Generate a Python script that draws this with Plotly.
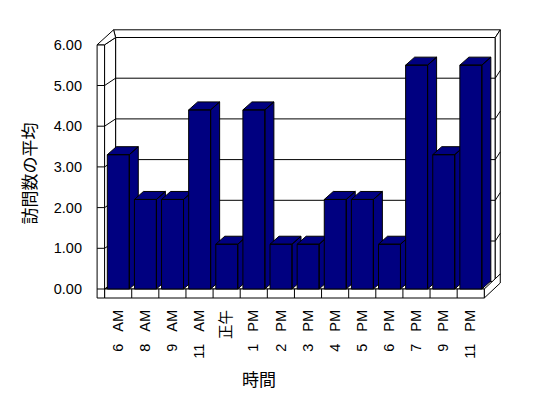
import plotly.graph_objects as go

# ---- data ----
categories = ["6\u00a0\u00a0\u00a0AM", "8\u00a0\u00a0\u00a0AM", "9\u00a0\u00a0\u00a0AM", "11\u00a0\u00a0\u00a0AM", "正午",
              "1\u00a0\u00a0\u00a0PM", "2\u00a0\u00a0\u00a0PM", "3\u00a0\u00a0\u00a0PM", "4\u00a0\u00a0\u00a0PM", "5\u00a0\u00a0\u00a0PM",
              "6\u00a0\u00a0\u00a0PM", "7\u00a0\u00a0\u00a0PM", "9\u00a0\u00a0\u00a0PM", "11\u00a0\u00a0\u00a0PM"]
values = [3.3, 2.2, 2.2, 4.4, 1.1, 4.4, 1.1, 1.1, 2.2, 2.2, 1.1, 5.5, 3.3, 5.5]
y_ticks = [0, 1, 2, 3, 4, 5, 6]
y_ticktext = ["0.00", "1.00", "2.00", "3.00", "4.00", "5.00", "6.00"]
x_title = "時間"
y_title = "訪問数の平均"

# ---- geometry (pseudo-3D, in data units) ----
N = len(categories)
YMAX = 6
CW, PV = 27.12, 40.7          # px per category / per value unit
BAR_L, BAR_R = 0.10, 0.91      # bar front face within category
BDU, BDV = 9 / CW, 8 / PV      # bar depth offset
WDU, WDV = 11 / CW, 7.3 / PV   # back wall offset
ODU, ODV = 16 / CW, 15 / PV    # outer slab offset
LW = -7.5 / CW                 # left wall front thickness
FL = -9 / PV                   # floor front thickness
NAVY = "#000080"

fig = go.Figure()

def poly(pts, fill):
    xs, ys = [], []
    for p in pts:
        if p is None:
            xs.append(None); ys.append(None)
        else:
            xs.append(p[0]); ys.append(p[1])
    fig.add_trace(go.Scatter(x=xs, y=ys, mode="lines", fill="toself", fillcolor=fill,
                             line=dict(color="black", width=1), hoverinfo="skip", showlegend=False))

def lines(segs):
    xs, ys = [], []
    for a, b in segs:
        xs += [a[0], b[0], None]; ys += [a[1], b[1], None]
    fig.add_trace(go.Scatter(x=xs, y=ys, mode="lines", line=dict(color="black", width=1),
                             hoverinfo="skip", showlegend=False))

ox_l = -0.258 + ODU            # outer back-left x
ox_r = N + ODU                 # outer right x
oy_t = YMAX + ODV              # outer top y

# back wall inner face
poly([(WDU, WDV), (N + WDU, WDV), (N + WDU, YMAX + WDV), (WDU, YMAX + WDV), (WDU, WDV)], "white")
# back wall top thickness
poly([(WDU, YMAX + WDV), (N + WDU, YMAX + WDV), (ox_r, oy_t), (ox_l, oy_t), (WDU, YMAX + WDV)], "white")
# back wall right thickness
poly([(N + WDU, WDV), (N + WDU, YMAX + WDV), (ox_r, oy_t), (ox_r, ODV), (N + WDU, WDV)], "white")
# floor top
poly([(0, 0), (N, 0), (N + WDU, WDV), (WDU, WDV), (0, 0)], "white")
# floor right face
poly([(N, 0), (N, FL), (ox_r, FL + ODV), (ox_r, ODV), (N, 0)], "white")
# floor front face
poly([(0, FL), (N, FL), (N, 0), (0, 0), (0, FL)], "white")
# left wall front face
poly([(LW, FL), (0, FL), (0, YMAX), (LW, YMAX), (LW, FL)], "white")
# left wall inner face
poly([(0, 0), (0, YMAX), (WDU, YMAX + WDV), (WDU, WDV), (0, 0)], "white")
# left wall top
poly([(LW, YMAX), (0, YMAX), (WDU, YMAX + WDV), (ox_l, oy_t), (LW, YMAX)], "white")

# gridlines & ticks
segs = []
for t in y_ticks[1:-1]:
    segs.append(((WDU, t + WDV), (N + WDU, t + WDV)))
    segs.append(((N + WDU, t + WDV), (ox_r, t + ODV)))
for t in y_ticks[:-1]:
    segs.append(((LW, t), (0, t)))
    segs.append(((0, t), (WDU, t + WDV)))
for i in range(1, N):
    segs.append(((i, FL), (i, 0)))
lines(segs)

# bars
for i, h in enumerate(values):
    l, r = i + BAR_L, i + BAR_R
    pts = [(r, 0), (r, h), (r + BDU, h + BDV), (r + BDU, BDV), (r, 0), None,
           (l, h), (r, h), (r + BDU, h + BDV), (l + BDU, h + BDV), (l, h), None,
           (l, 0), (r, 0), (r, h), (l, h), (l, 0)]
    poly(pts, NAVY)

# ---- layout ----
L, R, T, B = 90, 510, 26, 300
X0, Y0 = 104.6, 289
xr = [(L - X0) / CW, (R - X0) / CW]
yr = [(Y0 - B) / PV, (Y0 - T) / PV]

fig.update_layout(
    width=548, height=398,
    margin=dict(l=L, r=548 - R, t=T, b=398 - B, pad=0),
    paper_bgcolor="white", plot_bgcolor="white",
    font=dict(family="Liberation Sans, Noto Sans CJK JP", size=14.5, color="black"),
    xaxis=dict(range=xr, showgrid=False, zeroline=False, showline=False,
               tickvals=[i + 0.5 for i in range(N)], ticktext=categories,
               tickangle=-90, ticks="", ticklabelstandoff=6, fixedrange=True),
    yaxis=dict(range=yr, showgrid=False, zeroline=False, showline=False,
               tickvals=y_ticks, ticktext=y_ticktext, ticks="", ticklabelstandoff=7,
               fixedrange=True),
    annotations=[
        dict(text=x_title, xref="paper", yref="paper", x=(259 - L) / (R - L), y=(B - 378) / (B - T),
             showarrow=False, xanchor="center", yanchor="middle",
             font=dict(family="Noto Sans CJK JP", size=17)),
        dict(text=y_title, xref="paper", yref="paper", x=(28 - L) / (R - L), y=(B - 173.5) / (B - T),
             showarrow=False, xanchor="center", yanchor="middle", textangle=-90,
             font=dict(family="Noto Sans CJK JP", size=17)),
    ],
)

fig.write_html("out.html")
